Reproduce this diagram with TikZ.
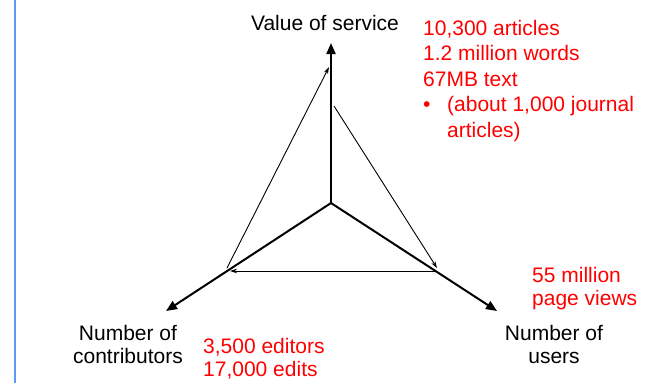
\documentclass[tikz,border=0pt]{standalone}
\usepackage{fontspec}
\setmainfont{Liberation Sans}
\usetikzlibrary{arrows.meta}
\definecolor{bluebar}{HTML}{5B9BF5}
\definecolor{redtxt}{HTML}{FF0000}
\begin{document}
\begin{tikzpicture}[x=1bp,y=-1bp,
  lbl/.style={inner sep=0pt,anchor=base,font=\fontsize{21bp}{25bp}\selectfont},
  redl/.style={lbl,anchor=base west,text=redtxt},
  axis/.style={line width=2bp,-{Triangle[length=11bp,width=9bp]}},
  flow/.style={line width=0.9bp,-{Stealth[length=7bp,width=4.5bp]}}]
\useasboundingbox (0,0) rectangle (652,383);
\draw[bluebar,line width=1.8bp] (15,0) -- (15,383);
% axes
\coordinate (c) at (331,203);
\coordinate (top) at (331,43);
\coordinate (ll) at (166,311);
\coordinate (lr) at (497,311);
\draw[axis] (c) -- (top);
\draw[axis] (c) -- (ll);
\draw[axis] (c) -- (lr);
% flow arrows
\coordinate (f1s) at (227,268);
\coordinate (f1e) at (329,67);
\coordinate (f2s) at (334,106);
\coordinate (f2e) at (437,268);
\coordinate (f3s) at (437,271);
\coordinate (f3e) at (230,271);
\draw[flow] (f1s) -- (f1e);
\draw[flow] (f2s) -- (f2e);
\draw[flow] (f3s) -- (f3e);
% black labels
\node[lbl] (vos) at (325,30) {Value of service};
\node[lbl] (nu1) at (554,340) {Number of};
\node[lbl] (nu2) at (554,363) {users};
\node[lbl] (nc1) at (128,340) {Number of};
\node[lbl] (nc2) at (128,363) {contributors};
% red labels
\node[redl] (r1) at (423,35) {10,300 articles};
\node[redl] (r2) at (423,60.5) {1.2 million words};
\node[redl] (r3) at (423,86) {67MB text};
\node[redl] (r4b) at (423,111.5) {•};
\node[redl] (r4) at (447,111.5) {(about 1,000 journal};
\node[redl] (r5) at (447,137) {articles)};
\node[redl] (p1) at (532,282) {55 million};
\node[redl] (p2) at (532,305) {page views};
\node[redl] (e1) at (203,353) {3,500 editors};
\node[redl] (e2) at (203,376) {17,000 edits};
\end{tikzpicture}
\end{document}
